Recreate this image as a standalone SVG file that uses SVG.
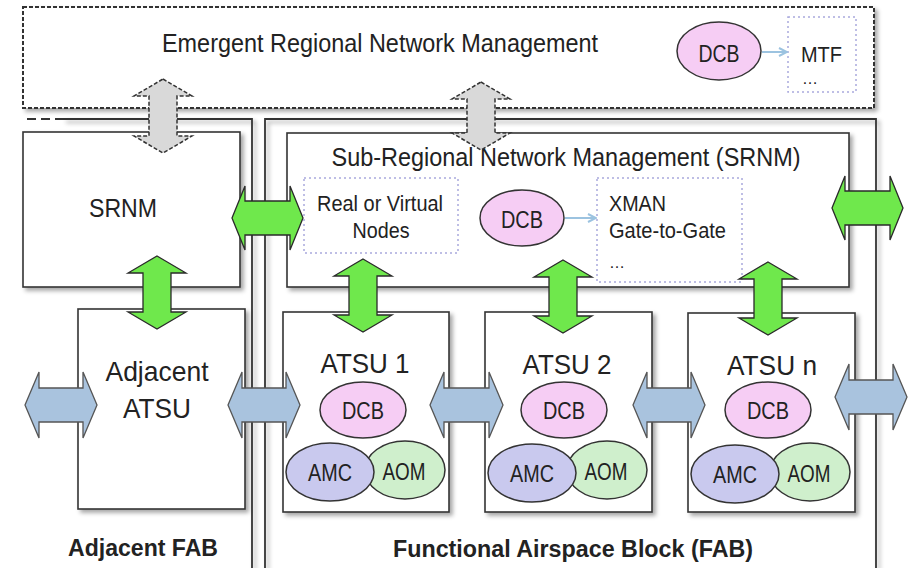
<svg xmlns="http://www.w3.org/2000/svg" width="914" height="568" viewBox="0 0 914 568">
<style>
text{font-family:"Liberation Sans",Arial,sans-serif;fill:#222}
.box{fill:#fff;stroke:#333;stroke-width:1.6}
.cont{fill:none;stroke:#333;stroke-width:1.8}
.dot{fill:none;stroke:#a9a9dd;stroke-width:1.5;stroke-dasharray:2 3}
.dcb{fill:#f6cdf4;stroke:#333;stroke-width:1.5}
.amc{fill:#c9c9ee;stroke:#333;stroke-width:1.5}
.aom{fill:#cfefcc;stroke:#333;stroke-width:1.5}
.green{fill:#6fe84c;stroke:#2a2a2a;stroke-width:1.3;stroke-linejoin:miter}
.blue{fill:#a9c3de;stroke:#555;stroke-width:1.3}
.gray{fill:#d9d9d9;stroke:#333;stroke-width:1.5;stroke-dasharray:4 2}
.thin{stroke:#9cc3e0;stroke-width:2;fill:none}
.t20{font-size:22px}
.dots{font-size:16px}
.t22{font-size:23px}
.t23{font-size:25px}
.t26{font-size:28px}
.bold{font-size:23px;font-weight:bold}
</style>
<defs>
<filter id="sh" x="-5%" y="-5%" width="115%" height="115%">
<feDropShadow dx="3" dy="3" stdDeviation="2" flood-color="#000" flood-opacity="0.35"/>
</filter>
<marker id="ah" viewBox="0 0 10 10" refX="9" refY="5" markerWidth="5" markerHeight="5" orient="auto">
<path d="M1,1 L9,5 L1,9" fill="none" stroke="#9cc3e0" stroke-width="2"/>
</marker>
</defs>

<g id="emergent">
<rect x="23" y="7" width="851" height="101" fill="#fff" stroke="#333" stroke-width="2" stroke-dasharray="4 2" filter="url(#sh)"/>
<text class="t23" x="380" y="52" text-anchor="middle" textLength="436" lengthAdjust="spacingAndGlyphs">Emergent Regional Network Management</text>
</g>
<g id="emergent-dcb">
<ellipse class="dcb" cx="719" cy="51" rx="42" ry="29"/>
<text class="t22" x="719" y="62" text-anchor="middle" textLength="41" lengthAdjust="spacingAndGlyphs">DCB</text>
</g>
<g id="mtf">
<rect class="dot" x="788" y="17" width="68" height="75"/>
<text class="t20" x="801" y="62" textLength="41" lengthAdjust="spacingAndGlyphs">MTF</text>
<text class="dots" x="802" y="84">…</text>
</g>

<g id="adjacent-fab">
<line x1="27" y1="119" x2="63" y2="119" stroke="#333" stroke-width="1.8" stroke-dasharray="9 5"/>
<path class="cont" d="M63,119 H252 V568" filter="url(#sh)"/>
<text class="bold" x="143" y="556" text-anchor="middle" textLength="150" lengthAdjust="spacingAndGlyphs">Adjacent FAB</text>
</g>
<g id="fab">
<path class="cont" d="M265,568 V119 H876 V568" filter="url(#sh)"/>
<text class="bold" x="573" y="557" text-anchor="middle" textLength="360" lengthAdjust="spacingAndGlyphs">Functional Airspace Block (FAB)</text>
</g>

<g id="srnm-adjacent">
<rect class="box" x="23" y="132" width="217" height="155" filter="url(#sh)"/>
<text class="t23" x="123" y="217" text-anchor="middle" textLength="68" lengthAdjust="spacingAndGlyphs">SRNM</text>
</g>
<g id="srnm">
<rect class="box" x="287" y="133" width="562" height="154" filter="url(#sh)"/>
<text class="t23" x="566" y="166" text-anchor="middle" textLength="469" lengthAdjust="spacingAndGlyphs">Sub-Regional Network Management (SRNM)</text>
</g>
<g id="nodes">
<rect class="dot" x="304" y="178" width="154" height="75"/>
<text class="t20" x="380" y="211" text-anchor="middle" textLength="126" lengthAdjust="spacingAndGlyphs">Real or Virtual</text>
<text class="t20" x="381" y="238" text-anchor="middle" textLength="57" lengthAdjust="spacingAndGlyphs">Nodes</text>
</g>
<g id="srnm-dcb">
<ellipse class="dcb" cx="522" cy="218" rx="42" ry="28"/>
<text class="t22" x="522" y="228" text-anchor="middle" textLength="42" lengthAdjust="spacingAndGlyphs">DCB</text>
</g>
<g id="xman">
<rect class="dot" x="597" y="178" width="145" height="104"/>
<text class="t20" x="609" y="211" textLength="57" lengthAdjust="spacingAndGlyphs">XMAN</text>
<text class="t20" x="609" y="238" textLength="117" lengthAdjust="spacingAndGlyphs">Gate-to-Gate</text>
<text class="dots" x="609" y="268">…</text>
</g>

<g id="adjacent-atsu">
<rect class="box" x="78" y="309" width="167" height="200" filter="url(#sh)"/>
<text class="t26" x="157" y="381" text-anchor="middle" textLength="103" lengthAdjust="spacingAndGlyphs">Adjacent</text>
<text class="t26" x="157" y="418" text-anchor="middle" textLength="68" lengthAdjust="spacingAndGlyphs">ATSU</text>
</g>

<g id="atsu1">
<rect class="box" x="283" y="312" width="166" height="200" filter="url(#sh)"/>
<text class="t26" x="365" y="373" text-anchor="middle" textLength="89" lengthAdjust="spacingAndGlyphs">ATSU 1</text>
<ellipse class="dcb" cx="363" cy="410" rx="43" ry="28"/>
<text class="t22" x="363" y="419" text-anchor="middle" textLength="42" lengthAdjust="spacingAndGlyphs">DCB</text>
<ellipse class="aom" cx="405" cy="470" rx="40" ry="29"/>
<ellipse class="amc" cx="330" cy="472" rx="44" ry="29"/>
<text class="t22" x="330" y="481" text-anchor="middle" textLength="44" lengthAdjust="spacingAndGlyphs">AMC</text>
<text class="t22" x="404" y="480" text-anchor="middle" textLength="43" lengthAdjust="spacingAndGlyphs">AOM</text>
</g>

<g id="atsu2">
<rect class="box" x="485" y="312" width="167" height="200" filter="url(#sh)"/>
<text class="t26" x="567" y="374" text-anchor="middle" textLength="89" lengthAdjust="spacingAndGlyphs">ATSU 2</text>
<ellipse class="dcb" cx="564" cy="410" rx="43" ry="28"/>
<text class="t22" x="564" y="419" text-anchor="middle" textLength="42" lengthAdjust="spacingAndGlyphs">DCB</text>
<ellipse class="aom" cx="607" cy="470" rx="40" ry="29"/>
<ellipse class="amc" cx="532" cy="473" rx="44" ry="29"/>
<text class="t22" x="532" y="482" text-anchor="middle" textLength="44" lengthAdjust="spacingAndGlyphs">AMC</text>
<text class="t22" x="606" y="480" text-anchor="middle" textLength="43" lengthAdjust="spacingAndGlyphs">AOM</text>
</g>

<g id="atsun">
<rect class="box" x="688" y="313" width="167" height="199" filter="url(#sh)"/>
<text class="t26" x="772" y="375" text-anchor="middle" textLength="90" lengthAdjust="spacingAndGlyphs">ATSU n</text>
<ellipse class="dcb" cx="768" cy="410" rx="43" ry="28"/>
<text class="t22" x="768" y="419" text-anchor="middle" textLength="42" lengthAdjust="spacingAndGlyphs">DCB</text>
<ellipse class="aom" cx="810" cy="472" rx="40" ry="29"/>
<ellipse class="amc" cx="735" cy="474" rx="44" ry="29"/>
<text class="t22" x="735" y="483" text-anchor="middle" textLength="44" lengthAdjust="spacingAndGlyphs">AMC</text>
<text class="t22" x="809" y="482" text-anchor="middle" textLength="43" lengthAdjust="spacingAndGlyphs">AOM</text>
</g>

<g id="connectors">
<line class="thin" x1="762" y1="52" x2="787" y2="52" marker-end="url(#ah)"/>
<line class="thin" x1="565" y1="218" x2="596" y2="218" marker-end="url(#ah)"/>

<polygon class="gray" points="163,79 192,96 177,96 177,136 192,136 163,153 134,136 149,136 149,96 134,96"/>
<polygon class="gray" points="481,82 510,99 495,99 495,133 510,133 481,150 452,133 467,133 467,99 452,99"/>

<polygon class="green" points="157,256 186,273 171,273 171,312 186,312 157,329 128,312 143,312 143,273 128,273"/>
<polygon class="green" points="363,259 392,276 377,276 377,315 392,315 363,332 334,315 349,315 349,276 334,276"/>
<polygon class="green" points="563,260 592,277 577,277 577,316 592,316 563,333 534,316 549,316 549,277 534,277"/>
<polygon class="green" points="768,262 797,279 782,279 782,318 797,318 768,335 739,318 754,318 754,279 739,279"/>

<polygon class="green" points="232,218 245,186 245,201 290,201 290,186 303,218 290,250 290,235 245,235 245,250"/>
<polygon class="green" points="832,208 845,176 845,191 890,191 890,176 903,208 890,240 890,225 845,225 845,240"/>

<polygon class="blue" points="25,405 39,372 39,388 83,388 83,372 97,405 83,438 83,422 39,422 39,438"/>
<polygon class="blue" points="228,405 242,372 242,388 286,388 286,372 300,405 286,438 286,422 242,422 242,438"/>
<polygon class="blue" points="430,405 444,372 444,388 489,388 489,372 503,405 489,438 489,422 444,422 444,438"/>
<polygon class="blue" points="633,405 647,372 647,388 691,388 691,372 705,405 691,438 691,422 647,422 647,438"/>
<polygon class="blue" points="835,397 849,364 849,380 893,380 893,364 907,397 893,430 893,414 849,414 849,430"/>
</g>
</svg>
